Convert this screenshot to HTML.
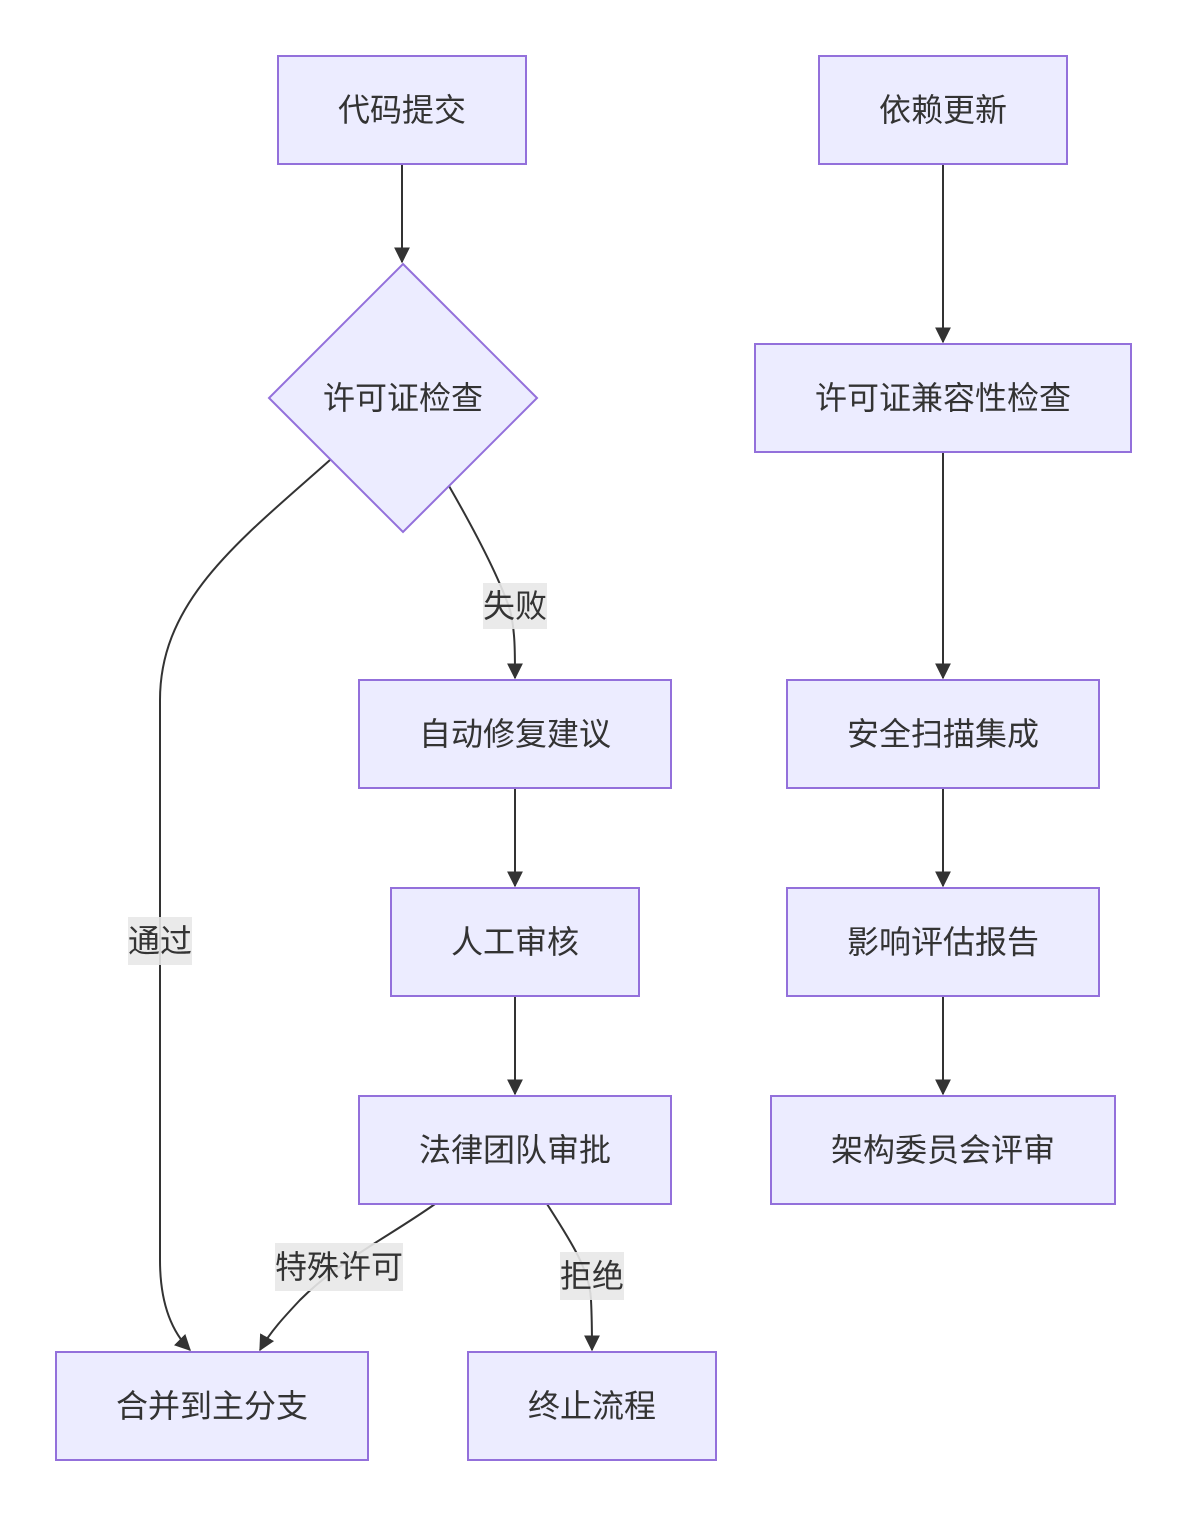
<!DOCTYPE html>
<html><head><meta charset="utf-8"><style>
html,body{margin:0;padding:0;background:#fff;}
svg text{font-family:"Liberation Sans","Noto Sans CJK SC",sans-serif;fill:#333;}
</style></head><body>
<svg width="1187" height="1515" viewBox="0 0 1187 1515" xmlns="http://www.w3.org/2000/svg">
<defs>
<marker id="b" viewBox="0 0 12 12" refX="11" refY="6" markerWidth="16" markerHeight="16" markerUnits="userSpaceOnUse" orient="auto">
<path d="M0,0 L12,6 L0,12 z" fill="#333"/></marker>
</defs>
<g fill="none" stroke="#333" stroke-width="2">
<path d="M402,164 V262" marker-end="url(#b)"/>
<path d="M330,460 C240,540 160,600 160,700 V1260 C160,1300 170,1330 190,1350" marker-end="url(#b)"/>
<path d="M449,486 C480,540 500,580 510,610 C515,630 515,650 515,678" marker-end="url(#b)"/>
<path d="M515,788 V886" marker-end="url(#b)"/>
<path d="M515,996 V1094" marker-end="url(#b)"/>
<path d="M435,1204 C390,1236 340,1260 300,1300 C285,1316 270,1332 260,1350" marker-end="url(#b)"/>
<path d="M547,1204 C570,1240 590,1270 591,1300 C592,1320 592,1335 592,1350" marker-end="url(#b)"/>
<path d="M943,164 V342" marker-end="url(#b)"/>
<path d="M943,452 V678" marker-end="url(#b)"/>
<path d="M943,788 V886" marker-end="url(#b)"/>
<path d="M943,996 V1094" marker-end="url(#b)"/>
</g>
<g fill="#ECECFF" stroke="#9370DB" stroke-width="2">
<rect x="278" y="56" width="248" height="108"/>
<polygon points="403,264 537,398 403,532 269,398"/>
<rect x="359" y="680" width="312" height="108"/>
<rect x="391" y="888" width="248" height="108"/>
<rect x="359" y="1096" width="312" height="108"/>
<rect x="56" y="1352" width="312" height="108"/>
<rect x="468" y="1352" width="248" height="108"/>
<rect x="819" y="56" width="248" height="108"/>
<rect x="755" y="344" width="376" height="108"/>
<rect x="787" y="680" width="312" height="108"/>
<rect x="787" y="888" width="312" height="108"/>
<rect x="771" y="1096" width="344" height="108"/>
</g>
<g fill="#e8e8e8" opacity="0.9">
<rect x="483" y="583" width="64" height="46"/>
<rect x="128" y="917" width="64" height="48"/>
<rect x="275" y="1243" width="128" height="48"/>
<rect x="560" y="1252" width="64" height="48"/>
</g>
<g font-size="32" text-anchor="middle" dominant-baseline="central">
<text x="402" y="110">代码提交</text>
<text x="403" y="398">许可证检查</text>
<text x="515" y="734">自动修复建议</text>
<text x="515" y="942">人工审核</text>
<text x="515" y="1150">法律团队审批</text>
<text x="212" y="1406">合并到主分支</text>
<text x="592" y="1406">终止流程</text>
<text x="943" y="110">依赖更新</text>
<text x="943" y="398">许可证兼容性检查</text>
<text x="943" y="734">安全扫描集成</text>
<text x="943" y="942">影响评估报告</text>
<text x="943" y="1150">架构委员会评审</text>
<text x="515" y="606">失败</text>
<text x="160" y="941">通过</text>
<text x="339" y="1267">特殊许可</text>
<text x="592" y="1276">拒绝</text>
</g>
</svg>
</body></html>
